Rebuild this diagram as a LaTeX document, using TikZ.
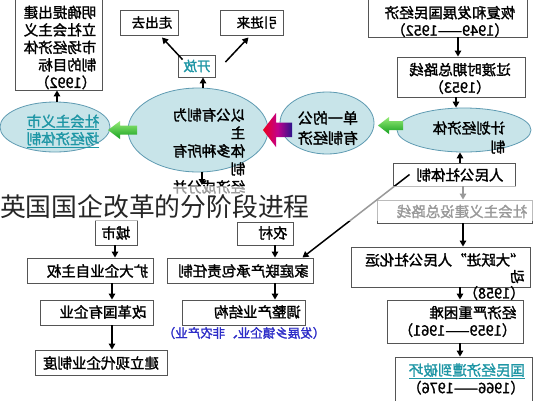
\documentclass[tikz,border=0pt]{standalone}
\usepackage{fontspec}
\usetikzlibrary{shapes.geometric,arrows.meta}
\newfontfamily\cjk{Noto Sans CJK SC}
\newfontfamily\cjkb[FakeBold=1.6]{Noto Sans CJK SC}
\definecolor{ellfill}{RGB}{200,228,233}
\definecolor{elldraw}{RGB}{95,155,178}
\definecolor{tealtxt}{RGB}{30,150,165}
\definecolor{bluetxt}{RGB}{45,45,200}
\definecolor{boxdraw}{RGB}{85,85,85}
\definecolor{gradA}{RGB}{235,0,30}
\definecolor{gradB}{RGB}{195,0,140}
\definecolor{gradC}{RGB}{45,20,140}
\definecolor{grnA}{RGB}{150,235,120}
\definecolor{grnB}{RGB}{20,160,30}
\begin{document}
\begin{tikzpicture}[x=1pt,y=-1pt,
  box/.style={draw=boxdraw, line width=0.9pt, fill=white, inner sep=0pt, rectangle},
  ell/.style={ellipse, draw=elldraw, line width=0.8pt, fill=ellfill, inner sep=0pt},
  mtxt/.style={xscale=-1, inner sep=0pt, align=left, font=\cjkb\fontsize{14.5}{17.5}\selectfont},
  msmall/.style={mtxt, font=\cjkb\fontsize{13.5}{16}\selectfont},
  arr/.style={draw=black, line width=1.5pt, -{Triangle[length=6pt,width=6.5pt]}},
  ]
\useasboundingbox (0,0) rectangle (533,400);
\fill[white] (0,0) rectangle (533,400);
\clip (0,0) rectangle (533,400);

% ellipses
\node[ell, minimum width=110pt, minimum height=50pt] (mkt) at (55,127) {};
\node[ell, minimum width=140pt, minimum height=84pt] (big) at (198,130) {};
\node[ell, minimum width=94pt, minimum height=62pt] (single) at (327,123) {};
\node[ell, minimum width=134pt, minimum height=44pt] (plan) at (464,130) {};

% block arrows
\shade[left color=gradA, right color=gradC, middle color=gradB]
  (263,130) -- (276,113) -- (276,122.5) -- (292,122.5) -- (292,137) -- (276,137) -- (276,147) -- cycle;
\shade[top color=grnA, bottom color=grnB]
  (108,130) -- (120,121) -- (120,125.5) -- (137,125.5) -- (137,134.5) -- (120,134.5) -- (120,139) -- cycle;
\shade[top color=grnA, bottom color=grnB]
  (378,125.5) -- (389,117) -- (389,121) -- (403,121) -- (403,130) -- (389,130) -- (389,134) -- cycle;

% boxes
\node[box, minimum width=87pt, minimum height=93pt] (goal) at (58.5,43.5) {};
\node[box, minimum width=58pt, minimum height=25pt] (zcq) at (149,22.5) {};
\node[box, minimum width=63pt, minimum height=25pt] (yjl) at (251.5,22.5) {};
\node[box, minimum width=37pt, minimum height=22pt] (kf) at (196.5,66) {};
\node[box, minimum width=159pt, minimum height=40pt] (top1) at (447.5,17) {};
\node[box, minimum width=128pt, minimum height=40pt] (top2) at (461,77) {};
\node[box, minimum width=122pt, minimum height=23pt] (rmgs) at (454,174.5) {};
\node[box, minimum width=155pt, minimum height=23pt] (shzy) at (454.5,211.5) {};
\node[box, minimum width=179pt, minimum height=40pt] (dyj) at (440.5,267) {};
\node[box, minimum width=136pt, minimum height=43pt] (jjyz) at (455,321.5) {};
\node[box, minimum width=137pt, minimum height=46pt] (gmjj) at (463.5,380) {};
\node[box, minimum width=42pt, minimum height=25pt] (cs) at (116,232.5) {};
\node[box, minimum width=56pt, minimum height=23pt] (nc) at (265,233.5) {};
\node[box, minimum width=126pt, minimum height=25pt] (kd) at (90,270.5) {};
\node[box, minimum width=113pt, minimum height=25pt] (ggg) at (96.5,312.5) {};
\node[box, minimum width=132pt, minimum height=25pt] (jlxd) at (101,362.5) {};
\node[box, minimum width=146pt, minimum height=25pt] (jt) at (240,270.5) {};
\node[box, minimum width=123pt, minimum height=25pt] (tz) at (243.5,312.5) {};

% texts (mirrored as in the picture)
\node[mtxt] (goalt) at (60,47.5) {明确提出建\\立社会主义\\市场经济体\\制的目标\\（1992）};
\node[msmall] (zcqt) at (152,22.5) {走出去};
\node[msmall] (yjlt) at (257,22.5) {引进来};
\node[msmall, text=tealtxt] (kft) at (197,66) {开放};
\node[mtxt, align=center] (top1t) at (450,21.5) {恢复和发展国民经济\\（1949——1952）};
\node[mtxt, align=center] (top2t) at (460,78.5) {过渡时期总路线\\（1953）};
\node[mtxt, text=tealtxt] (mktt) at (63,131) {\underline{社会主义市}\\\underline{场经济体制}};
\node[mtxt, font=\cjkb\fontsize{14.5}{18}\selectfont] (bigt) at (209,151) {以公有制为\\主\\体多种所有\\制\\经济成分并};
\node[mtxt, align=center, font=\cjkb\fontsize{15}{20}\selectfont] (singlet) at (328,128) {单一的公\\有制经济};
\node[mtxt, font=\cjkb\fontsize{14.5}{19}\selectfont] (plant) at (469,137.5) {计划经济体\\制};
\node[mtxt] (rmgst) at (460,175) {人民公社体制};
\node[mtxt] (shzyt) at (462,211.5) {社会主义建设总路线};
\node[mtxt, font=\cjkb\fontsize{14.5}{16.5}\selectfont] (dyjt) at (445,276.5) {“大跃进”人民公社化运\\动\\（1958）};
\node[mtxt] (jjyzt) at (457.5,321.5) {经济严重困难\\（1959——1961）};
\node[mtxt] (gmjjt) at (466,379) {\textcolor{tealtxt}{\underline{国民经济遭到破坏}}\\（1966——1976）};
\node[mtxt] (cst) at (116,233) {城市};
\node[mtxt] (nct) at (273,233) {农村};
\node[mtxt] (kdt) at (97.5,271) {扩大企业自主权};
\node[mtxt] (gggt) at (103,312) {改革国有企业};
\node[mtxt] (jlxdt) at (101,363) {建立现代企业制度};
\node[mtxt] (jtt) at (243.5,271) {家庭联产承包责任制};
\node[mtxt] (tzt) at (257.5,312) {调整产业结构};
\node[mtxt, text=bluetxt, font=\cjkb\fontsize{12.5}{15}\selectfont] (note) at (244,333) {（发展乡镇企业、非农产业）};

% connector x positions
\coordinate (xa) at (458,0);
\coordinate (xb) at (456,0);
\coordinate (xc) at (460,0);
\coordinate (xd) at (463,0);
\coordinate (xe) at (115,0);
\coordinate (xf) at (112,0);
\coordinate (xg) at (275,0);
\coordinate (xh) at (57,0);
\coordinate (xi) at (203,0);
\coordinate (bigend) at (202,185);

% connectors
\draw[arr] (mkt.north -| xh) -- (goal.south -| xh);
\draw[arr] (big.north -| xi) -- (kf.south -| xi);
\draw[arr] ([xshift=5pt,yshift=-5pt]kf.north west) -- ([xshift=13pt,yshift=-2pt]zcq.south);
\draw[arr] ([xshift=10pt,yshift=4pt]kf.east) -- ([xshift=-3pt,yshift=-2pt]yjl.south);
\draw[arr] (big.south -| bigend) -- (bigend);
\draw[arr] (top1.south -| xa) -- (top2.north -| xa);
\draw[arr] (top2.south -| xb) -- (plan.north -| xb);
\draw[arr] (rmgs.north -| xc) -- (plan.south -| xc);
\draw[arr] (rmgs.south -| xd) -- (shzy.north -| xd);
\draw[arr] (shzy.south -| xd) -- (dyj.north -| xd);
\draw[arr] (dyj.south -| xc) -- (jjyz.north -| xc);
\draw[arr] (jjyz.south -| xc) -- (gmjj.north -| xc);
\draw[arr] ([xshift=17pt]rmgs.west) -- ([xshift=-11pt]jt.north east);
\draw[arr] (cs.south -| xe) -- (kd.north -| xe);
\draw[arr] (kd.south -| xf) -- (ggg.north -| xf);
\draw[arr] (ggg.south -| xf) -- (jlxd.north -| xf);
\draw[arr] (nc.south -| xg) -- (jt.north -| xg);
\draw[arr] (jt.south -| xg) -- (tz.north -| xg);

% faded band behind the title
\fill[white, opacity=0.6] (0,186) rectangle (533,221);
\node[font=\cjk\fontsize{25.8}{30}\selectfont, text=black!85, anchor=west, inner sep=0pt] (title) at (0,207) {英国国企改革的分阶段进程};
\end{tikzpicture}
\end{document}
